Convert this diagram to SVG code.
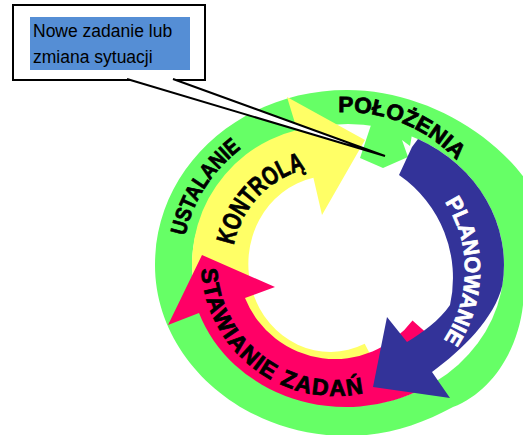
<svg xmlns="http://www.w3.org/2000/svg" width="523" height="435" viewBox="0 0 523 435">
<style>
.lbl{font-family:"Liberation Sans",Arial,sans-serif;font-weight:bold;fill:#000;stroke:#000;stroke-width:0.8px}
.wht{fill:#fff;stroke:#fff}
.call{font-family:"Liberation Sans",Arial,sans-serif;font-size:17.5px;fill:#000}
.green{fill:#66FF66}
.yellow{fill:#FFFF66}
.red{fill:#FF0066}
.blue{fill:#333399}
</style>
<defs>
<path id="pPol" d="M 338.3 112.1 A 153 153 0 0 1 483.7 200.3"/>
<path id="pUst" d="M 185.1 236 A 166 152 0 0 1 296.7 120.4"/>
<path id="pKon" d="M 233.8 245.3 A 98 98 0 0 1 330 166"/>
<path id="pPla" d="M 444.8 201.9 A 125 125 0 0 1 428.4 358.4"/>
<path id="pSta" d="M 201.2 269 A 134 134 0 0 0 402 378"/>
</defs>
<rect width="523" height="435" fill="#fff"/>
<g id="ring-ustalanie-polozenia">
<path class="green" d="M 155 265 C 155 167 241 90 347 90 C 395 90 445 108 483 137 C 513 160 545 195 548 236 C 550 260 540 285 523 305 C 518 350 492 392 453 407 C 420 425 385 436 347 436 C 241 436 155 358 155 265 Z"/>
<ellipse fill="#fff" cx="348" cy="265" rx="156" ry="141"/>
</g>
<g id="arrow-kontrola">
<path class="yellow" d="M 364.7 343.8 L 388.3 389.1 A 138 138 0 1 1 297.1 130 L 287 97 L 365 140 L 322 215 L 313.4 177.8 A 82 88 0 1 0 364.7 343.8 Z"/>
</g>
<g id="arrow-polozenia-head">
<path class="green" d="M 376 110 L 360 158 L 383 168 L 408 157 L 402 140 L 410 146 L 416 112 Z"/>
</g>
<g id="arrow-stawianie">
<path class="red" d="M 412.5 320.4 L 440 345 L 425 387.6 A 156 141 0 0 1 199 313 L 168 325 L 202 255 L 275 287 L 245 298 A 97 97 0 0 0 412.5 320.4 Z"/>
</g>
<g id="arrow-planowanie">
<path class="blue" d="M 412 147 L 418 139 A 156 141 0 0 1 502.4 285 C 495 318 462 350 432 372 L 450 398 L 373 387 L 387 317 L 407 342 C 422 333 440 320 450 305 A 125 125 0 0 0 399 175 Z"/>
</g>
<g id="labels">
<text class="lbl" font-size="22"><textPath href="#pPol" textLength="132" lengthAdjust="spacingAndGlyphs">POŁOŻENIA</textPath></text>
<text class="lbl" font-size="22"><textPath href="#pUst" textLength="106" lengthAdjust="spacingAndGlyphs">USTALANIE</textPath></text>
<text class="lbl" font-size="26"><textPath href="#pKon" textLength="110" lengthAdjust="spacingAndGlyphs">KONTROLĄ</textPath></text>
<text class="lbl wht" font-size="22"><textPath href="#pPla" textLength="146" lengthAdjust="spacingAndGlyphs">PLANOWANIE</textPath></text>
<text class="lbl" font-size="23"><textPath href="#pSta" textLength="232" lengthAdjust="spacing">STAWIANIE ZADAŃ</textPath></text>
</g>
<g id="callout">
<rect x="13" y="5" width="192" height="75" fill="#fff" stroke="#000" stroke-width="2"/>
<rect x="30" y="17" width="160" height="53" fill="#558ED5"/>
<text class="call" x="33" y="37">Nowe zadanie lub</text>
<text class="call" x="33" y="63">zmiana sytuacji</text>
</g>
<g id="connectors">
<path d="M 127 79 L 385 156 L 173 79" fill="#fff" stroke="#000" stroke-width="2" stroke-linejoin="miter"/>
</g>
</svg>
